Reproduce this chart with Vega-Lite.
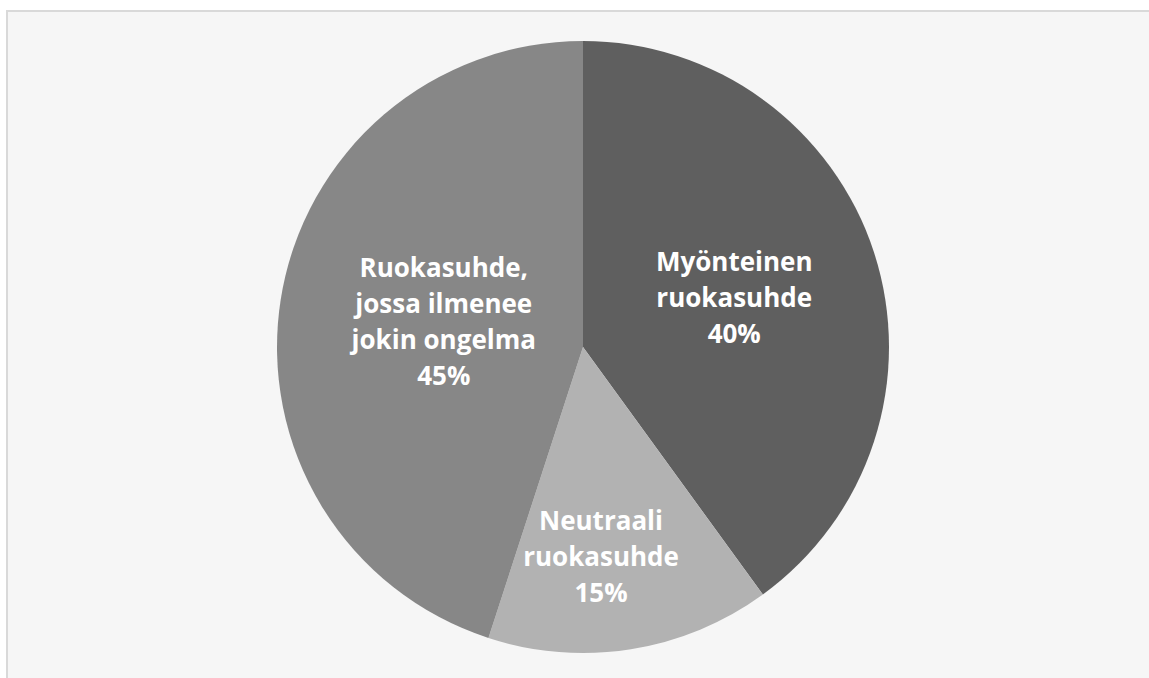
{
  "$schema": "https://vega.github.io/schema/vega-lite/v6.json",
  "width": 1149,
  "height": 678,
  "autosize": {"type": "fit", "contains": "padding"},
  "padding": {"left": 7, "top": 11, "right": -10, "bottom": -5},
  "background": "white",
  "view": {"fill": "#f6f6f6", "stroke": "#d9d9d9", "strokeWidth": 2},
  "config": {
    "text": {"font": "Open Sans"}
  },
  "data": {
    "values": [
      {"category": "Myönteinen ruokasuhde", "value": 40, "lines": ["Myönteinen", "ruokasuhde", "40%"]},
      {"category": "Neutraali ruokasuhde", "value": 15, "lines": ["Neutraali", "ruokasuhde", "15%"]},
      {"category": "Ruokasuhde, jossa ilmenee jokin ongelma", "value": 45, "lines": ["Ruokasuhde,", "jossa ilmenee", "jokin ongelma", "45%"]}
    ]
  },
  "encoding": {
    "theta": {"field": "value", "type": "quantitative", "stack": true},
    "order": {"field": "__none", "type": "quantitative"}
  },
  "layer": [
    {
      "mark": {"type": "arc", "outerRadius": 306},
      "encoding": {
        "color": {
          "field": "category",
          "type": "nominal",
          "sort": null,
          "scale": {
            "domain": ["Myönteinen ruokasuhde", "Neutraali ruokasuhde", "Ruokasuhde, jossa ilmenee jokin ongelma"],
            "range": ["#5f5f5f", "#b2b2b2", "#878787"]
          },
          "legend": null
        }
      }
    },
    {
      "mark": {"type": "text", "radius": 159, "dy": -35, "fontSize": 26, "fontWeight": "bold", "color": "white", "lineHeight": 36, "baseline": "middle"},
      "encoding": {
        "text": {"condition": {"test": "datum.category === 'Myönteinen ruokasuhde'", "field": "lines"}, "value": ""}
      }
    },
    {
      "mark": {"type": "text", "radius": 211, "dx": -15, "dy": -33, "fontSize": 26, "fontWeight": "bold", "color": "white", "lineHeight": 36, "baseline": "middle"},
      "encoding": {
        "text": {"condition": {"test": "datum.category === 'Neutraali ruokasuhde'", "field": "lines"}, "value": ""}
      }
    },
    {
      "mark": {"type": "text", "radius": 142, "dx": 1, "dy": -56, "fontSize": 26, "fontWeight": "bold", "color": "white", "lineHeight": 36, "baseline": "middle"},
      "encoding": {
        "text": {"condition": {"test": "datum.category === 'Ruokasuhde, jossa ilmenee jokin ongelma'", "field": "lines"}, "value": ""}
      }
    }
  ]
}
